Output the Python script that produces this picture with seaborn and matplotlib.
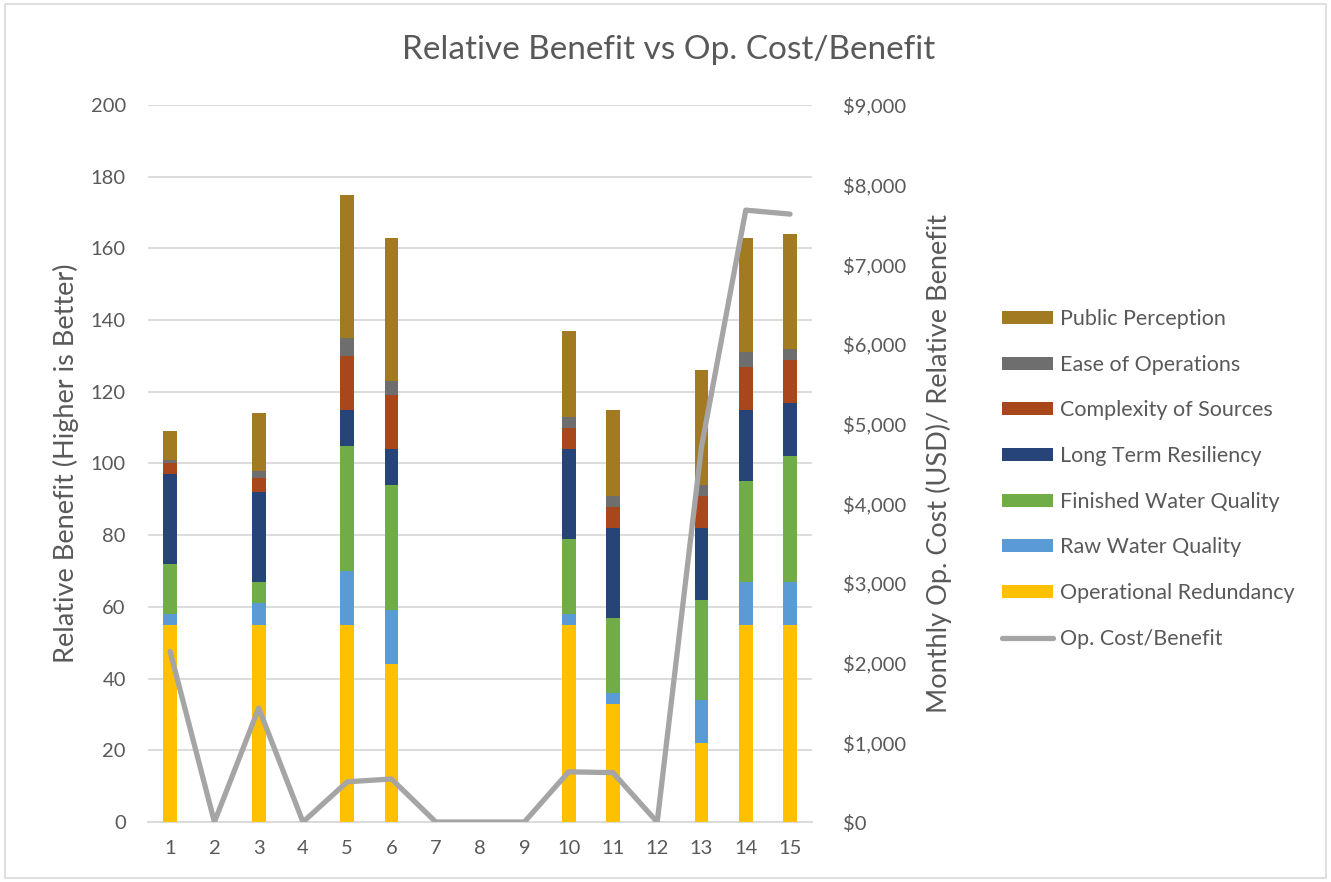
import numpy as np
import pandas as pd
import matplotlib
matplotlib.use("Agg")
import matplotlib.pyplot as plt
import matplotlib.ticker as mticker
from matplotlib.patches import Patch, Rectangle
from matplotlib.lines import Line2D
import seaborn as sns

# Options 1..15
options = [str(i) for i in range(1, 16)]

# Benefit components per option (stacked bottom to top)
operational_redundancy = [55, 0, 55, 0, 55, 44, 0, 0, 0, 55, 33, 0, 22, 55, 55]
raw_water_quality      = [3, 0, 6, 0, 15, 15, 0, 0, 0, 3, 3, 0, 12, 12, 12]
finished_water_quality = [14, 0, 6, 0, 35, 35, 0, 0, 0, 21, 21, 0, 28, 28, 35]
long_term_resiliency   = [25, 0, 25, 0, 10, 10, 0, 0, 0, 25, 25, 0, 20, 20, 15]
complexity_of_sources  = [3, 0, 4, 0, 15, 15, 0, 0, 0, 6, 6, 0, 9, 12, 12]
ease_of_operations     = [1, 0, 2, 0, 5, 4, 0, 0, 0, 3, 3, 0, 3, 4, 3]
public_perception      = [8, 0, 16, 0, 40, 40, 0, 0, 0, 24, 24, 0, 32, 32, 32]

# Monthly operating cost per unit of relative benefit (USD)
op_cost_benefit = [2140, 0, 1430, 0, 505, 540, 0, 0, 0, 630, 620, 0, 4710, 7680, 7630]

series_names = ["Operational Redundancy", "Raw Water Quality", "Finished Water Quality",
                "Long Term Resiliency", "Complexity of Sources", "Ease of Operations",
                "Public Perception"]
series_values = [operational_redundancy, raw_water_quality, finished_water_quality,
                 long_term_resiliency, complexity_of_sources, ease_of_operations,
                 public_perception]
series_colors = ["#FFC000", "#5B9BD5", "#70AD47", "#264478", "#A9471C", "#6E6E6E", "#A27A22"]
line_color = "#A5A5A5"
text_color = "#595959"

sns.set_theme(style="white")
plt.rcParams["font.family"] = ["Lato", "DejaVu Sans"]

fig = plt.figure(figsize=(13.31, 8.82), dpi=100)
ax = fig.add_axes([0.1112, 0.068, 0.499, 0.813])

# Stacked bars: draw cumulative totals from the top layer down
df = pd.DataFrame({name: vals for name, vals in zip(series_names, series_values)})
df["option"] = options
cumulative = df[series_names].cumsum(axis=1)
for name, color in reversed(list(zip(series_names, series_colors))):
    sns.barplot(x=df["option"], y=cumulative[name], color=color, width=0.31,
                saturation=1, ax=ax, zorder=3, linewidth=0)

ax.set_ylim(0, 200)
ax.set_xlim(-0.5, 14.5)
ax.set_yticks(np.arange(0, 201, 20))
ax.grid(axis="y", color="#D9D9D9", linewidth=1.3, zorder=0)
ax.set_axisbelow(True)
for s in ["top", "right", "left"]:
    ax.spines[s].set_visible(False)
ax.spines["bottom"].set_color("#D9D9D9")
ax.spines["bottom"].set_linewidth(1.3)
ax.tick_params(axis="both", length=0, colors=text_color, labelsize=14.5)
ax.tick_params(axis="x", pad=13)
ax.tick_params(axis="y", pad=16)
ax.set_xlabel("")
ax.set_ylabel("Relative Benefit (Higher is Better)", fontsize=19.5, color=text_color, labelpad=8)

# Cost/benefit line on the secondary axis
ax2 = ax.twinx()
sns.lineplot(x=np.arange(len(options)), y=op_cost_benefit, color=line_color,
             linewidth=3.8, ax=ax2, zorder=4)
ax2.set_ylim(0, 9000)
ax2.set_yticks(np.arange(0, 9001, 1000))
ax2.yaxis.set_major_formatter(mticker.StrMethodFormatter("${x:,.0f}"))
for s in ["top", "right", "left", "bottom"]:
    ax2.spines[s].set_visible(False)
ax2.tick_params(axis="y", length=0, colors=text_color, labelsize=14.5, pad=22)
ax2.set_ylabel("Monthly Op. Cost (USD)/ Relative Benefit", fontsize=19.5,
               color=text_color, labelpad=14)
ax2.grid(False)

fig.text(0.502, 0.943, "Relative Benefit vs Op. Cost/Benefit", ha="center", va="center",
         fontsize=24, color=text_color)

# Legend
handles = [Patch(facecolor=c, edgecolor="none", label=n)
           for n, c in reversed(list(zip(series_names, series_colors)))]
handles.append(Line2D([0], [0], color=line_color, linewidth=3.8, label="Op. Cost/Benefit"))
leg = fig.legend(handles=handles, loc="center left", bbox_to_anchor=(0.738, 0.457),
                 frameon=False, fontsize=15.5, labelcolor=text_color, handlelength=2.4,
                 handleheight=0.55, labelspacing=1.19, handletextpad=0.3)

# Chart border
fig.patches.append(Rectangle((0.004, 0.004), 0.992, 0.992, transform=fig.transFigure,
                             fill=False, edgecolor="#D9D9D9", linewidth=1.2))

fig.savefig("out.png", dpi=100)
